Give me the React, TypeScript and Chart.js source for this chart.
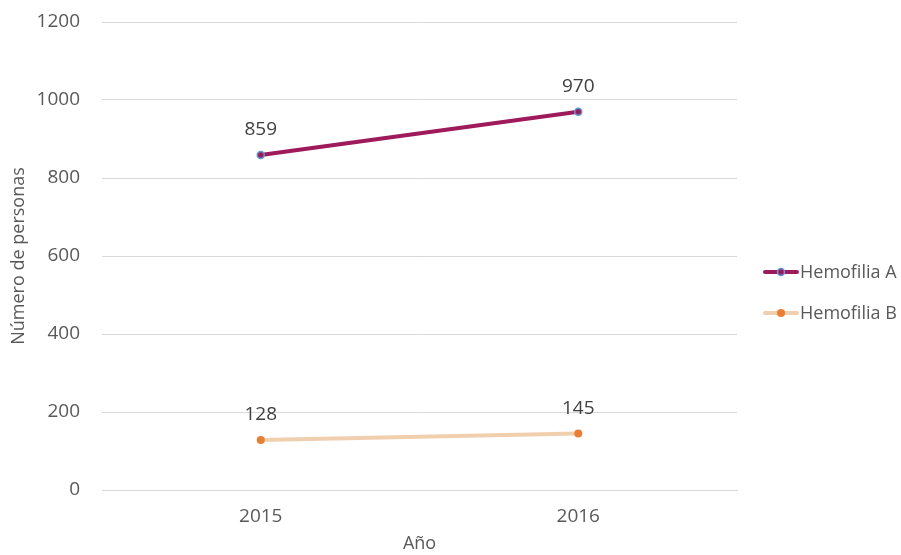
import React, { useEffect, useRef } from "react";
import { Chart, registerables } from "chart.js";

Chart.register(...registerables);

const categories = ["2015", "2016"];
const hemofiliaA = [859, 970];
const hemofiliaB = [128, 145];
const seriesNames = ["Hemofilia A", "Hemofilia B"];
const yTicks = [0, 200, 400, 600, 800, 1000, 1200];

const FONT = "'Open Sans', sans-serif";
const TEXT = "#595959";

const dataLabels = {
  id: "dataLabels",
  afterDatasetsDraw(chart: any) {
    const ctx = chart.ctx;
    ctx.save();
    ctx.font = `19px ${FONT}`;
    ctx.fillStyle = "#404040";
    ctx.textAlign = "center";
    ctx.textBaseline = "middle";
    chart.data.datasets.forEach((ds: any, i: number) => {
      const meta = chart.getDatasetMeta(i);
      meta.data.forEach((pt: any, j: number) => {
        ctx.fillText(String(ds.data[j]), pt.x, pt.y - 25);
      });
    });
    ctx.restore();
  },
};

const customLegend = {
  id: "customLegend",
  afterDraw(chart: any) {
    const ctx = chart.ctx;
    const x0 = chart.chartArea.right + 28;
    const cy = chart.height / 2 + 15;
    ctx.save();
    chart.data.datasets.forEach((ds: any, i: number) => {
      const y = cy + (i - 0.5) * 41;
      ctx.strokeStyle = ds.borderColor;
      ctx.lineWidth = 4;
      ctx.lineCap = "round";
      ctx.beginPath();
      ctx.moveTo(x0, y);
      ctx.lineTo(x0 + 32, y);
      ctx.stroke();
      ctx.beginPath();
      ctx.arc(x0 + 16, y, ds.pointRadius, 0, Math.PI * 2);
      ctx.fillStyle = ds.pointBackgroundColor;
      ctx.fill();
      if (ds.pointBorderWidth > 0) {
        ctx.strokeStyle = ds.pointBorderColor;
        ctx.lineWidth = ds.pointBorderWidth;
        ctx.stroke();
      }
      ctx.font = `18px ${FONT}`;
      ctx.fillStyle = TEXT;
      ctx.textAlign = "left";
      ctx.textBaseline = "middle";
      ctx.fillText(ds.label, x0 + 35, y + 1);
    });
    ctx.restore();
  },
};

export default function App() {
  const ref = useRef<HTMLCanvasElement>(null);
  useEffect(() => {
    const chart = new Chart(ref.current!, {
      type: "line",
      data: {
        labels: categories,
        datasets: [
          {
            label: seriesNames[0],
            data: hemofiliaA,
            borderColor: "#9E1A5B",
            borderWidth: 4,
            pointRadius: 3.5,
            pointBackgroundColor: "#9E1A5B",
            pointBorderColor: "#5B9BD5",
            pointBorderWidth: 1.5,
            tension: 0,
          },
          {
            label: seriesNames[1],
            data: hemofiliaB,
            borderColor: "#F0CFAF",
            borderWidth: 4,
            pointRadius: 4,
            pointBackgroundColor: "#ED7D31",
            pointBorderColor: "#ED7D31",
            pointBorderWidth: 0,
            tension: 0,
          },
        ],
      },
      options: {
        animation: false,
        responsive: false,
        layout: { padding: { top: 22, right: 164, left: 4, bottom: 0 } },
        plugins: {
          tooltip: { enabled: false },
          legend: { display: false },
        },
        scales: {
          x: {
            offset: true,
            grid: { display: false, drawTicks: false },
            border: { display: true, color: "#D9D9D9" },
            ticks: { color: TEXT, font: { family: FONT, size: 19 }, padding: 15 },
            title: {
              display: true,
              text: "Año",
              color: TEXT,
              font: { family: FONT, size: 18 },
              padding: { top: 8, bottom: 0 },
            },
            afterFit: (axis: any) => {
              axis.height = 65;
              axis.paddingLeft = 0;
              axis.paddingRight = 0;
            },
          },
          y: {
            min: 0,
            max: 1200,
            afterBuildTicks: (axis: any) => {
              axis.ticks = yTicks.map((v) => ({ value: v }));
            },
            grid: { color: "#D9D9D9", drawTicks: false },
            border: { display: false },
            ticks: {
              color: TEXT,
              font: { family: FONT, size: 19 },
              padding: 22,
              callback: (v: any) => String(v),
            },
            title: {
              display: true,
              text: "Número de personas",
              color: TEXT,
              font: { family: FONT, size: 18 },
              padding: { top: 4, bottom: 8 },
            },
            afterFit: (axis: any) => {
              axis.width = 98;
              axis.paddingTop = 0;
              axis.paddingBottom = 0;
            },
          },
        },
      },
      plugins: [dataLabels, customLegend],
    });
    return () => chart.destroy();
  }, []);
  return (
    <div style={{ position: "absolute", left: 0, top: 0, width: 901, height: 555, background: "#fff" }}>
      <canvas ref={ref} width={901} height={555} />
    </div>
  );
}
